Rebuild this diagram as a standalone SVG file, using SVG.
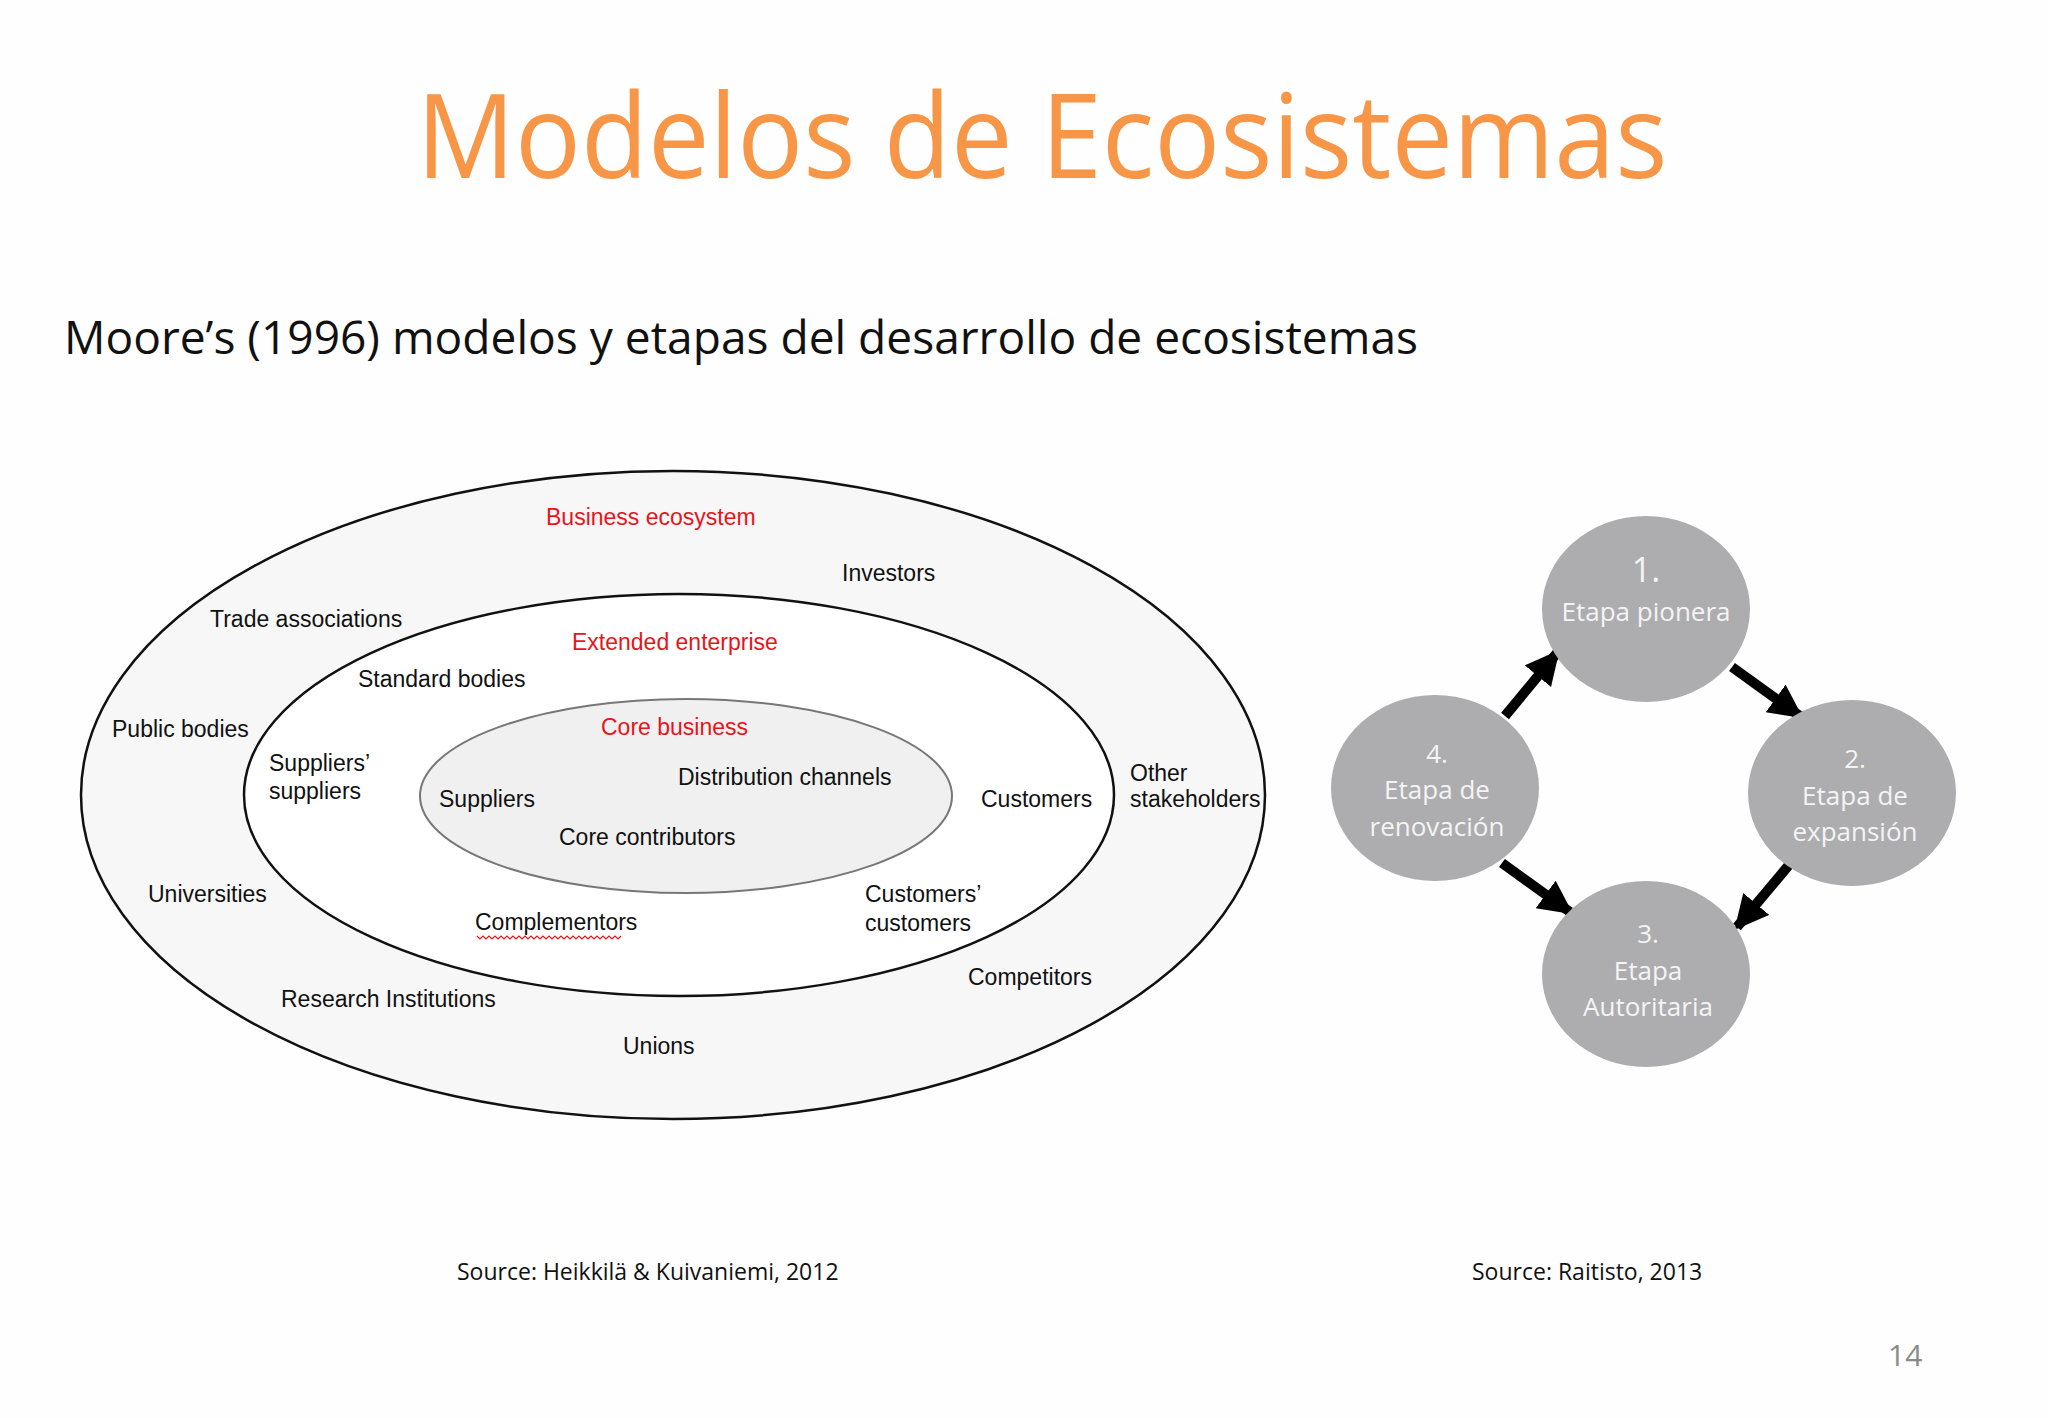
<svg xmlns="http://www.w3.org/2000/svg" width="2048" height="1418" viewBox="0 0 2048 1418">
<style>
.l{font-family:"Liberation Sans","DejaVu Sans",sans-serif;font-size:23px;fill:#111}
.r{fill:#e8141c}
.c{font-family:"Open Sans","DejaVu Sans",sans-serif;font-size:26px;fill:#f4f4f4;text-anchor:middle}
.n{font-size:34px}
.s{font-family:"Open Sans","Liberation Sans",sans-serif;font-size:23px;fill:#111}
</style>
<defs>
<marker id="ah" markerUnits="userSpaceOnUse" markerWidth="40" markerHeight="40" refX="30" refY="17" orient="auto">
<path d="M0,0 L34,17 L0,34 Z" fill="#000"/>
</marker>
</defs>
<rect width="2048" height="1418" fill="#fefefe"/>
<text x="1042" y="178" text-anchor="middle" font-family="Open Sans, Liberation Sans, sans-serif" font-size="118" fill="#f79646" textLength="1251" lengthAdjust="spacingAndGlyphs">Modelos de Ecosistemas</text>
<text x="64" y="354" font-family="Open Sans, Liberation Sans, sans-serif" font-size="46" fill="#111" textLength="1354" lengthAdjust="spacingAndGlyphs">Moore’s (1996) modelos y etapas del desarrollo de ecosistemas</text>
<g id="outer"><ellipse cx="673" cy="795" rx="592" ry="324" fill="#f7f7f7" stroke="#111" stroke-width="2.5"/></g>
<g id="middle"><ellipse cx="679" cy="795" rx="435" ry="201" fill="#fff" stroke="#111" stroke-width="2.5"/></g>
<g id="inner"><ellipse cx="686" cy="796" rx="266" ry="97" fill="#f0f0f0" stroke="#777" stroke-width="2"/></g>
<g id="labels">
<text class="l r" x="546" y="525">Business ecosystem</text>
<text class="l" x="842" y="581">Investors</text>
<text class="l" x="210" y="627">Trade associations</text>
<text class="l r" x="572" y="650">Extended enterprise</text>
<text class="l" x="358" y="687">Standard bodies</text>
<text class="l" x="112" y="737">Public bodies</text>
<text class="l r" x="601" y="735">Core business</text>
<text class="l" x="269" y="771">Suppliers’</text>
<text class="l" x="269" y="799">suppliers</text>
<text class="l" x="678" y="785">Distribution channels</text>
<text class="l" x="439" y="807">Suppliers</text>
<text class="l" x="981" y="807">Customers</text>
<text class="l" x="1130" y="781">Other</text>
<text class="l" x="1130" y="807">stakeholders</text>
<text class="l" x="559" y="845">Core contributors</text>
<text class="l" x="148" y="902">Universities</text>
<text class="l" x="865" y="902">Customers’</text>
<text class="l" x="865" y="931">customers</text>
<text class="l" x="475" y="930">Complementors</text>
<path d="M477,936 l3,3 l3,-3 l3,3 l3,-3 l3,3 l3,-3 l3,3 l3,-3 l3,3 l3,-3 l3,3 l3,-3 l3,3 l3,-3 l3,3 l3,-3 l3,3 l3,-3 l3,3 l3,-3 l3,3 l3,-3 l3,3 l3,-3 l3,3 l3,-3 l3,3 l3,-3 l3,3 l3,-3 l3,3 l3,-3 l3,3 l3,-3 l3,3 l3,-3 l3,3 l3,-3 l3,3 l3,-3 l3,3 l3,-3 l3,3 l3,-3 l3,3 l3,-3 l3,3 l3,-3" fill="none" stroke="#e8141c" stroke-width="1.2"/>
<text class="l" x="968" y="985">Competitors</text>
<text class="l" x="281" y="1007">Research Institutions</text>
<text class="l" x="623" y="1054">Unions</text>
</g>
<g id="connectors" stroke="#000" stroke-width="10" marker-end="url(#ah)">
<line x1="1505" y1="716" x2="1557" y2="653"/>
<line x1="1732" y1="667" x2="1800" y2="716"/>
<line x1="1789" y1="865" x2="1737" y2="927"/>
<line x1="1502" y1="863" x2="1570" y2="912"/>
</g>
<g id="c1"><ellipse cx="1646" cy="609" rx="104" ry="93" fill="#adadaf"/><text class="c n" x="1646" y="582">1.</text><text class="c" x="1646" y="621">Etapa pionera</text></g>
<g id="c2"><ellipse cx="1852" cy="793" rx="104" ry="93" fill="#adadaf"/><text class="c" x="1855" y="768">2.</text><text class="c" x="1855" y="805">Etapa de</text><text class="c" x="1855" y="841">expansión</text></g>
<g id="c3"><ellipse cx="1646" cy="974" rx="104" ry="93" fill="#adadaf"/><text class="c" x="1648" y="943">3.</text><text class="c" x="1648" y="980">Etapa</text><text class="c" x="1648" y="1016">Autoritaria</text></g>
<g id="c4"><ellipse cx="1435" cy="788" rx="104" ry="93" fill="#adadaf"/><text class="c" x="1437" y="763">4.</text><text class="c" x="1437" y="799">Etapa de</text><text class="c" x="1437" y="836">renovación</text></g>
<text class="s" x="457" y="1280">Source: Heikkilä &amp; Kuivaniemi, 2012</text>
<text class="s" x="1472" y="1280">Source: Raitisto, 2013</text>
<text x="1888" y="1366" font-family="Open Sans, Liberation Sans, sans-serif" font-size="30" fill="#8a8a8a">14</text>
</svg>
